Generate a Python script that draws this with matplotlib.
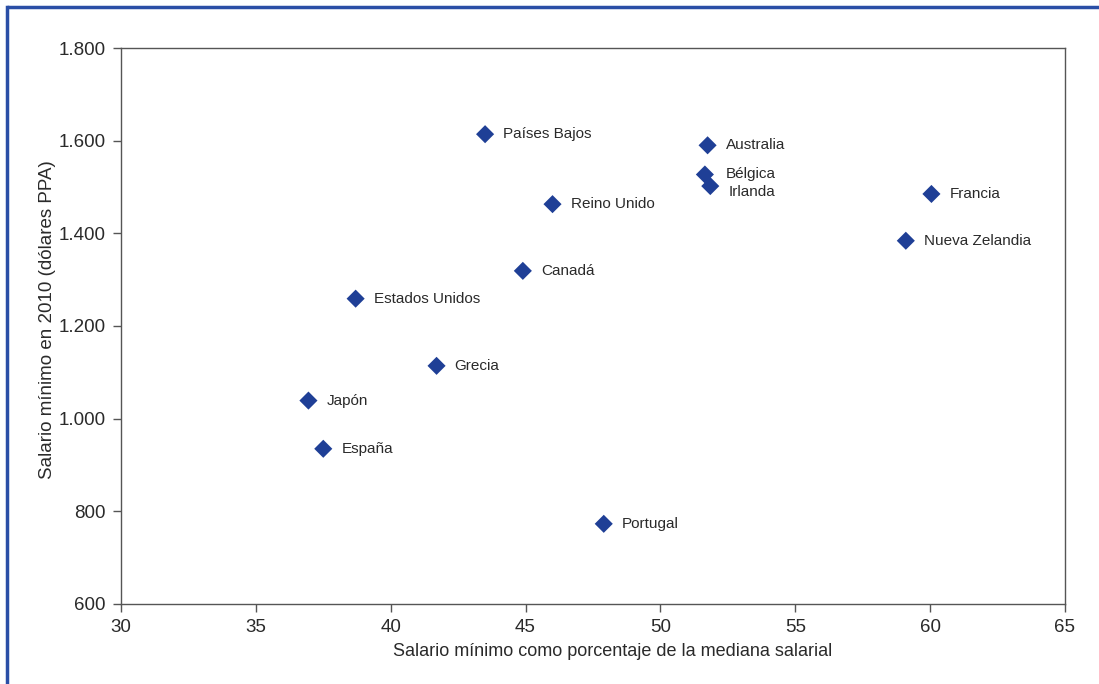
import matplotlib
matplotlib.use("Agg")
import matplotlib.pyplot as plt
from matplotlib.lines import Line2D
from matplotlib.ticker import FuncFormatter

paises = ["Países Bajos", "Australia", "Bélgica", "Irlanda", "Francia",
          "Nueva Zelandia", "Reino Unido", "Canadá", "Estados Unidos",
          "Grecia", "Japón", "España", "Portugal"]
pct_mediana = [43.5, 51.75, 51.65, 51.85, 60.05, 59.1, 46.0, 44.9, 38.7,
               41.7, 36.95, 37.5, 47.9]
salario_ppa = [1614, 1590, 1527, 1502, 1485, 1384, 1463, 1319, 1259,
               1114, 1039, 935, 773]

plt.rcParams['font.family'] = ['Liberation Sans', 'DejaVu Sans']

fig = plt.figure(figsize=(10.99, 6.84), dpi=100)
ax = fig.add_axes([0.1101, 0.1170, 0.9690 - 0.1101, 0.9298 - 0.1170])

mk_color = "#1f3f96"
ax.scatter(pct_mediana, salario_ppa, marker="D", s=85, color=mk_color,
           edgecolors="none", zorder=3)
for name, x, y in zip(paises, pct_mediana, salario_ppa):
    dx, dy = 13, 0
    if name == "Irlanda":
        dy = -4
    if name == "Bélgica":
        dx = 15
    ax.annotate(name, (x, y), xytext=(dx, dy), textcoords="offset points",
                ha="left", va="center", fontsize=11, color="#2a2a2a")

ax.set_xlim(30, 65)
ax.set_ylim(600, 1800)
ax.set_xticks(range(30, 66, 5))
ax.set_yticks(range(600, 1801, 200))
ax.yaxis.set_major_formatter(FuncFormatter(lambda v, p: f"{int(v):,}".replace(",", ".")))

for s in ax.spines.values():
    s.set_color("#555555")
    s.set_linewidth(1.0)
ax.tick_params(axis="both", direction="out", length=6, width=1, color="#555555",
               labelsize=13.5, labelcolor="#2a2a2a", pad=5)

ax.set_xlabel("Salario mínimo como porcentaje de la mediana salarial",
              fontsize=13, color="#2a2a2a", labelpad=5)
ax.set_ylabel("Salario mínimo en 2010 (dólares PPA)", fontsize=13.5,
              color="#2a2a2a", labelpad=2)
ax.xaxis.label.set_x(0.521)
ax.yaxis.label.set_y(0.511)

frame_color = "#2a4ea6"
fig.add_artist(Line2D([6.5 / 1099, 1.0], [1 - 6.5 / 684, 1 - 6.5 / 684],
                      transform=fig.transFigure, color=frame_color, lw=2.5,
                      solid_capstyle="butt"))
fig.add_artist(Line2D([6.5 / 1099, 6.5 / 1099], [0.0, 1 - 6.5 / 684],
                      transform=fig.transFigure, color=frame_color, lw=2.5,
                      solid_capstyle="projecting"))

fig.savefig("out.png", dpi=100)
